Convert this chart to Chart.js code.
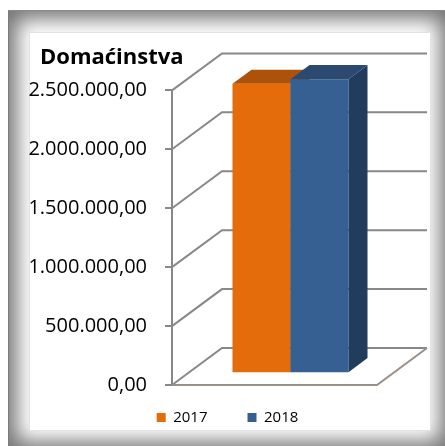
<!DOCTYPE html>
<html>
<head>
<meta charset="utf-8">
<script src="https://cdn.jsdelivr.net/npm/chart.js@4.4.0/dist/chart.umd.min.js"></script>
<style>
  body { margin:0; width:445px; height:446px; overflow:hidden; background:#fff; position:relative; }
  .cornice { position:absolute; left:8px; top:10px; width:439px; height:438px; background:#fff;
             border-left:1px solid #7a7a7a; border-top:1px solid #8a8a8a;
             box-shadow: inset 0 0 20px 8px rgba(0,0,0,.55); }
  .pannello { position:absolute; left:29px; top:32px; width:400px; height:397px; background:#fff; border:1px solid #e2e2e2; }
  canvas { position:absolute; left:0; top:0; }
</style>
</head>
<body>
<div class="cornice"></div>
<div class="pannello"></div>
<canvas id="grafico" width="445" height="446"></canvas>
<script>
// dati del grafico
var naslov = "Domaćinstva";
var kategorije = [""];
var godine = ["2017", "2018"];
var vrijednosti = [2456000, 2495000];
var osaY = [0, 500000, 1000000, 1500000, 2000000, 2500000];

var bojePrednje = ["#E46C0A", "#366092"];
var bojeVrh = ["#AF5209", "#2C4A70"];
var bojeStrana = ["#A34C08", "#223C5D"];

// profondita' 3D (pareti di fondo) e posizione delle colonne nella profondita'
var DX = 50, DY = 37;
var PREDNJI = 0.32, STRAZNJI = 0.70;

function formatta(v){
    let s = Math.round(v).toString().replace(/\B(?=(\d{3})+(?!\d))/g, ".");
    return s + ",00";
}

var plugin3d = {
    id: "treD",
    afterLayout(chart){
        //titolo spostato sopra l'asse, legenda piu' vicina al pavimento
        chart.titleBlock.left = 40;
        chart.legend.top -= 15;
        chart.legend.bottom -= 15;
    },
    beforeDatasetsDraw(chart){
        let ctx = chart.ctx, a = chart.chartArea, sy = chart.scales.y;
        ctx.save();
        ctx.strokeStyle = "#888888";
        ctx.lineWidth = 2;
        for(let v of osaY){
            let y = sy.getPixelForValue(v);
            ctx.beginPath();
            ctx.moveTo(a.left, y);
            ctx.lineTo(a.left + DX, y - DY);
            ctx.lineTo(a.right + DX, y - DY);
            ctx.stroke();
        }
        //pavimento
        let y0 = sy.getPixelForValue(0);
        ctx.strokeStyle = "#9a8f88";
        ctx.beginPath();
        ctx.moveTo(a.left, y0);
        ctx.lineTo(a.right, y0);
        ctx.lineTo(a.right + DX, y0 - DY);
        ctx.stroke();
        ctx.restore();
    },
    beforeDatasetDraw(){
        return false;
    },
    afterDatasetsDraw(chart){
        let ctx = chart.ctx;
        let dx = DX * (STRAZNJI - PREDNJI), dy = DY * (STRAZNJI - PREDNJI);
        ctx.save();
        ctx.translate(DX * PREDNJI, -DY * PREDNJI);
        chart.data.datasets.forEach((ds, i) => {
            chart.getDatasetMeta(i).data.forEach(bar => {
                bar.draw(ctx);
                let l = bar.x - bar.width / 2, r = bar.x + bar.width / 2;
                ctx.fillStyle = bojeVrh[i];
                ctx.beginPath();
                ctx.moveTo(l, bar.y);
                ctx.lineTo(r, bar.y);
                ctx.lineTo(r + dx, bar.y - dy);
                ctx.lineTo(l + dx, bar.y - dy);
                ctx.closePath();
                ctx.fill();
                ctx.fillStyle = bojeStrana[i];
                ctx.beginPath();
                ctx.moveTo(r, bar.y);
                ctx.lineTo(r + dx, bar.y - dy);
                ctx.lineTo(r + dx, bar.base - dy);
                ctx.lineTo(r, bar.base);
                ctx.closePath();
                ctx.fill();
            });
        });
        ctx.restore();
    }
};

window.onload = async function(){
    try {
        await document.fonts.load("20px 'Open Sans'");
        await document.fonts.load("bold 22px 'Open Sans'");
    } catch(e) {}

    let dataset = [];
    for(let i = 0; i < godine.length; i++){
        dataset.push({
            label: godine[i],
            data: [vrijednosti[i]],
            backgroundColor: bojePrednje[i],
            borderWidth: 0,
            barPercentage: 1,
            categoryPercentage: 0.566
        });
    }

    new Chart(document.getElementById("grafico"), {
        type: "bar",
        data: { labels: kategorije, datasets: dataset },
        plugins: [plugin3d],
        options: {
            responsive: false,
            animation: false,
            devicePixelRatio: 1,
            layout: { padding: { left: 10, right: 0, top: 0, bottom: 0 } },
            plugins: {
                title: {
                    display: true,
                    text: naslov,
                    align: "start",
                    color: "#000",
                    font: { family: "'Open Sans'", size: 22, weight: "bold" },
                    padding: { top: 45, bottom: 19 }
                },
                legend: {
                    position: "bottom",
                    maxHeight: 61,
                    labels: {
                        boxWidth: 9,
                        boxHeight: 9,
                        padding: 40,
                        color: "#000",
                        font: { family: "'Open Sans'", size: 15 }
                    }
                },
                tooltip: { enabled: false }
            },
            scales: {
                x: { display: false },
                y: {
                    min: 0,
                    max: osaY[osaY.length - 1],
                    afterBuildTicks: s => { s.ticks = osaY.map(v => ({ value: v })); },
                    afterFit: s => { s.width = 162; },
                    ticks: {
                        callback: v => formatta(v),
                        color: "#000",
                        padding: 18,
                        font: { family: "'Open Sans'", size: 20 }
                    },
                    grid: { drawOnChartArea: false, tickLength: 7, color: "#888888", lineWidth: 2 },
                    border: { color: "#888888", width: 2 }
                },
                y2: {
                    position: "right",
                    afterFit: s => { s.width = 68; },
                    ticks: { display: false },
                    grid: { display: false },
                    border: { display: false }
                }
            }
        }
    });
};
</script>
</body>
</html>
